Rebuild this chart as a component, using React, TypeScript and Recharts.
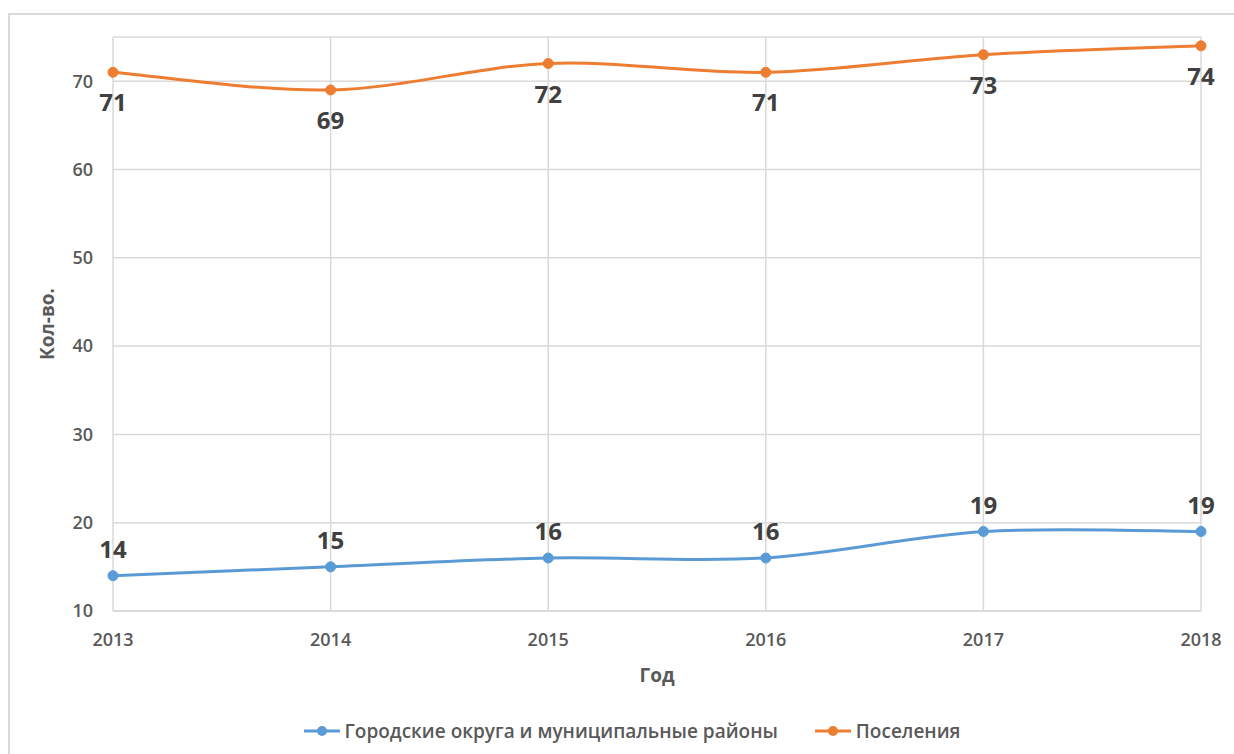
import React from 'react'
import {
  LineChart,
  Line,
  XAxis,
  YAxis,
  CartesianGrid,
  Legend,
  LabelList,
  Label,
} from 'recharts'

const years = ['2013', '2014', '2015', '2016', '2017', '2018']
const okruga = [14, 15, 16, 16, 19, 19]
const poseleniya = [71, 69, 72, 71, 73, 74]
const yTicks = [10, 20, 30, 40, 50, 60, 70]

const BLUE = '#5B9BD5'
const ORANGE = '#ED7D31'
const FONT = '"Open Sans", "Noto Sans", sans-serif'

// Excel-style smoothing (Catmull-Rom through the points)
function excelSmooth(context: any) {
  let pts: number[][] = []
  return {
    areaStart() {},
    areaEnd() {},
    lineStart() {
      pts = []
    },
    point(x: number, y: number) {
      pts.push([+x, +y])
    },
    lineEnd() {
      if (!pts.length) return
      context.moveTo(pts[0][0], pts[0][1])
      for (let i = 0; i < pts.length - 1; i++) {
        const p0 = pts[i - 1] || pts[i]
        const p1 = pts[i]
        const p2 = pts[i + 1]
        const p3 = pts[i + 2] || p2
        context.bezierCurveTo(
          p1[0] + (p2[0] - p0[0]) / 6,
          p1[1] + (p2[1] - p0[1]) / 6,
          p2[0] - (p3[0] - p1[0]) / 6,
          p2[1] - (p3[1] - p1[1]) / 6,
          p2[0],
          p2[1]
        )
      }
    },
  }
}

const data = years.map((y, i) => ({
  year: y,
  okruga: okruga[i],
  poseleniya: poseleniya[i],
}))

function LegendContent({ payload }: any) {
  return (
    <div
      style={{
        display: 'flex',
        justifyContent: 'center',
        alignItems: 'center',
        paddingLeft: 18,
        paddingTop: 2,
        fontFamily: FONT,
        fontSize: 19,
        fontWeight: 600,
        color: '#595959',
      }}
    >
      {(payload || []).map((p: any, i: number) => (
        <div key={i} style={{ display: 'flex', alignItems: 'center', marginRight: i === 0 ? 37 : 0 }}>
          <svg width={36} height={12} style={{ marginRight: 5 }}>
            <line x1={0} y1={6} x2={36} y2={6} stroke={p.color} strokeWidth={3} />
            <circle cx={18} cy={6} r={5} fill={p.color} />
          </svg>
          <span>{p.value}</span>
        </div>
      ))}
    </div>
  )
}

export default function App() {
  return (
    <>
      <style>{'body{overflow:hidden}'}</style>
      <div
        style={{
          position: 'absolute',
          left: 8,
          top: 13,
          width: 1240,
          height: 760,
          border: '2px solid #d9d9d9',
          background: '#fff',
        }}
      >
        <LineChart
          width={1226}
          height={741}
          data={data}
          margin={{ top: 22, right: 35, left: 0, bottom: 0 }}
        >
          <CartesianGrid stroke="#d9d9d9" strokeWidth={1.5} vertical horizontal />
          <XAxis
            dataKey="year"
            height={105}
            tickSize={0}
            tickMargin={22}
            axisLine={{ stroke: '#d9d9d9', strokeWidth: 1.5 }}
            tick={{ fill: '#595959', fontSize: 18, fontWeight: 600, fontFamily: FONT }}
          >
            <Label
              value="Год"
              position="insideBottom"
              offset={34}
              style={{ fill: '#595959', fontSize: 19, fontWeight: 700, fontFamily: FONT }}
            />
          </XAxis>
          <YAxis
            width={103}
            domain={[10, 75]}
            ticks={yTicks}
            tickSize={0}
            tickMargin={20}
            axisLine={false}
            tick={{ fill: '#595959', fontSize: 18, fontWeight: 600, fontFamily: FONT }}
          >
            <Label
              value="Кол-во."
              angle={-90}
              position="insideLeft"
              offset={37}
              style={{
                fill: '#595959',
                fontSize: 19,
                fontWeight: 700,
                fontFamily: FONT,
                textAnchor: 'middle',
              }}
            />
          </YAxis>
          <Legend
            verticalAlign="bottom"
            height={40}
            content={<LegendContent />}
            wrapperStyle={{ left: 0, width: 1226 }}
          />
          <Line
            name="Городские округа и муниципальные районы"
            dataKey="okruga"
            type={excelSmooth as any}
            stroke={BLUE}
            strokeWidth={3}
            dot={{ r: 5, fill: BLUE, stroke: BLUE, strokeWidth: 1 }}
            isAnimationActive={false}
          >
            <LabelList
              dataKey="okruga"
              position="top"
              offset={18}
              style={{ fill: '#404040', fontSize: 24, fontWeight: 700, fontFamily: FONT }}
            />
          </Line>
          <Line
            name="Поселения"
            dataKey="poseleniya"
            type={excelSmooth as any}
            stroke={ORANGE}
            strokeWidth={3}
            dot={{ r: 5, fill: ORANGE, stroke: ORANGE, strokeWidth: 1 }}
            isAnimationActive={false}
          >
            <LabelList
              dataKey="poseleniya"
              position="bottom"
              offset={22}
              style={{ fill: '#404040', fontSize: 24, fontWeight: 700, fontFamily: FONT }}
            />
          </Line>
        </LineChart>
      </div>
    </>
  )
}
